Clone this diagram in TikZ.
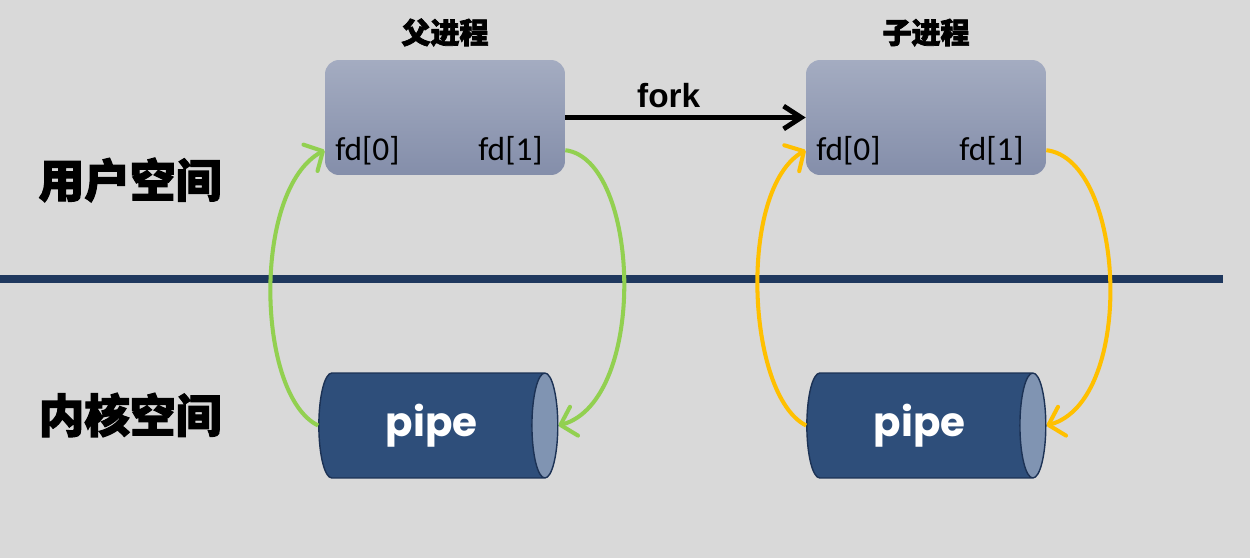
\documentclass[tikz,border=0pt]{standalone}
\usepackage{fontspec}
\newfontfamily\cjk{Noto Sans CJK SC}[BoldFeatures={FakeBold=2.5}]
\newfontfamily\fdfont{Carlito}
\newfontfamily\pipefont{Poppins}
\newfontfamily\forkfont{Liberation Sans}
\usetikzlibrary{shapes.geometric,arrows.meta,positioning}
\definecolor{bggray}{RGB}{217,217,217}
\definecolor{boxtop}{RGB}{164,172,193}
\definecolor{boxbottom}{RGB}{132,142,170}
\definecolor{navyline}{RGB}{31,56,94}
\definecolor{pipebody}{RGB}{46,78,122}
\definecolor{pipeend}{RGB}{128,148,178}
\definecolor{pipeedge}{RGB}{28,50,85}
\definecolor{parentgreen}{RGB}{146,208,80}
\definecolor{childyellow}{RGB}{255,192,0}
\begin{document}
\begin{tikzpicture}[x=0.02cm, y=-0.02cm]
    \tikzstyle{proc box}=[rounded corners=0.28cm, minimum width=4.8cm, minimum height=2.3cm, top color=boxtop, bottom color=boxbottom, draw=none]
    \tikzstyle{title text}=[font=\cjk\bfseries\fontsize{16.5}{18}\selectfont, inner sep=0pt]
    \tikzstyle{space text}=[font=\cjk\bfseries\fontsize{26}{28}\selectfont, inner sep=0pt]
    \tikzstyle{fd text}=[font=\fdfont\fontsize{19}{20}\selectfont, inner sep=0pt]
    \tikzstyle{pipe}=[cylinder, shape border rotate=0, aspect=0.6, minimum width=2.1cm, minimum height=4.78cm, cylinder uses custom fill, cylinder body fill=pipebody, cylinder end fill=pipeend, draw=pipeedge, line width=0.8pt, text=white, inner sep=0pt, font=\pipefont\bfseries\fontsize{23}{24}\selectfont]
    \tikzstyle{link}=[line width=2.3pt, -{Straight Barb[length=8pt, width=17pt, round]}]

    % 背景
    \fill[bggray] (0,0) rectangle (1250,558);
    \useasboundingbox (0,0) rectangle (1250,558);

    % 用户空间 / 内核空间
    \node[space text] (user) at (130,180) {用户空间};
    \node[space text] (kernel) at (130,415) {内核空间};
    \draw[navyline, line width=5.1pt] (0,279) -- (1223,279);

    % 父进程
    \node[proc box] (parent) at (445,117.5) {};
    \node[title text, above=0.26cm of parent] (ptitle) {父进程};
    \node[fd text, anchor=base west] (pfd0) at (335,160) {fd[0]};
    \node[fd text, anchor=base east] (pfd1) at (543,160) {fd[1]};
    \node[pipe] (ppipe) at (431.5,425.5) {pipe};

    % 子进程
    \node[proc box] (child) at (926,117.5) {};
    \node[title text, above=0.26cm of child] (ctitle) {子进程};
    \node[fd text, anchor=base west] (cfd0) at (816,160) {fd[0]};
    \node[fd text, anchor=base east] (cfd1) at (1024,160) {fd[1]};
    \node[pipe] (cpipe) at (919.5,425.5) {pipe};

    % fork
    \draw[line width=2.8pt, -{Straight Barb[length=10pt, width=13pt]}] (parent.east) -- node[pos=0.43, above=4pt, font=\forkfont\bfseries\fontsize{19}{20}\selectfont, inner sep=0pt] (forklbl) {fork} (child.west);

    % 管道读写端
    \draw[link, parentgreen] (ppipe.west) .. controls +(-62,-30) and +(-73,39) .. (parent.west |- pfd0.west);
    \draw[link, parentgreen] (parent.east |- pfd1.east) .. controls +(75,9) and +(90,-25) .. (ppipe.east);
    \draw[link, childyellow] (cpipe.west) .. controls +(-60,-30) and +(-68,39) .. (child.west |- cfd0.west);
    \draw[link, childyellow] (child.east |- cfd1.east) .. controls +(79,9) and +(90,-25) .. (cpipe.east);
\end{tikzpicture}
\end{document}
